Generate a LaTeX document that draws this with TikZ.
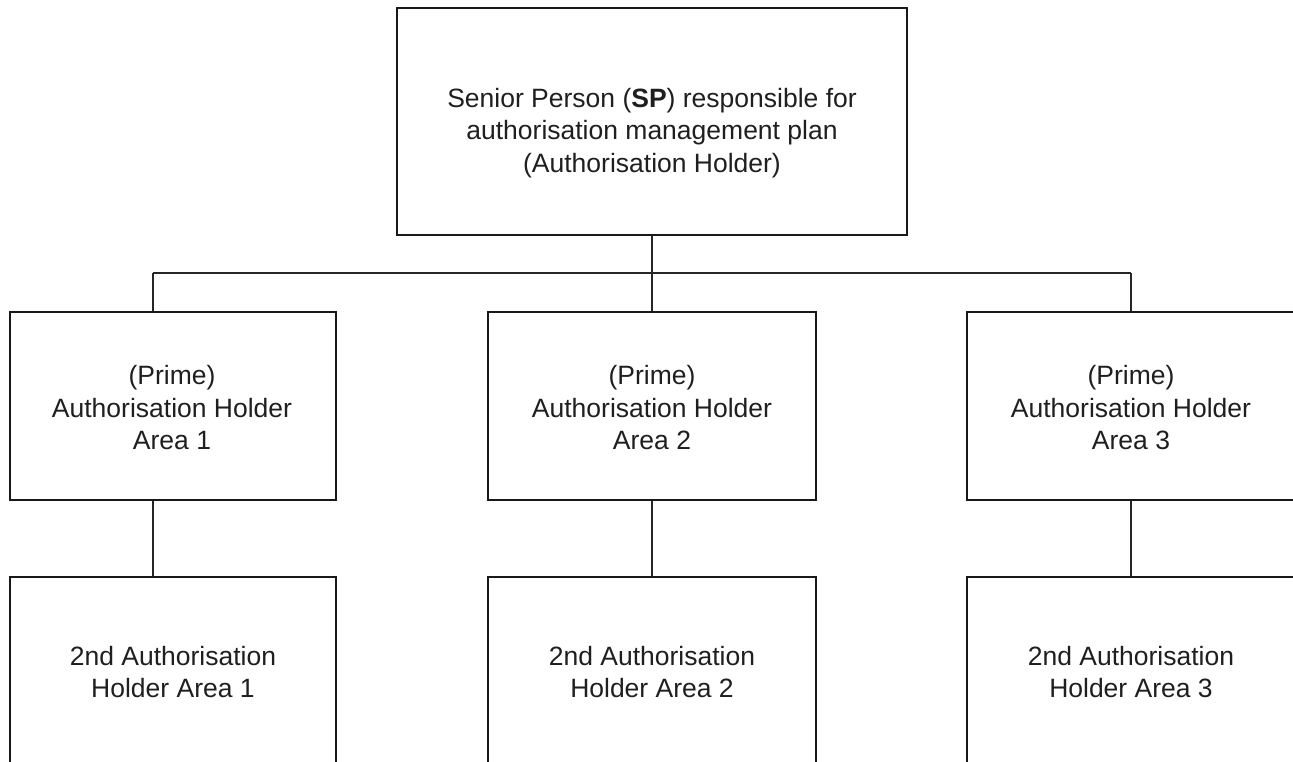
\documentclass[tikz,border=0pt]{standalone}
\usepackage{fontspec}
\setmainfont{Liberation Sans}
\begin{document}
\begin{tikzpicture}[x=1pt,y=-1pt,
  box/.style={draw=black!90,line width=1.3pt,inner sep=0pt,fill=none},
  txt/.style={align=center,inner sep=0pt,text=black!88,font=\fontsize{26.5}{32.5}\selectfont},
  conn/.style={draw=black!85,line width=1.3pt}]
\useasboundingbox (0,0) rectangle (1293,762);
\clip (0,0) rectangle (1293,762);
% top box
\node[box,minimum width=510pt,minimum height=227pt] (sp) at (652,121.5) {};
\node[txt] (tsp) at (652,133) {Senior Person (\textbf{SP}) responsible for\\authorisation management plan\\(Authorisation Holder)};
% middle row
\node[box,minimum width=326pt,minimum height=188pt] (m1) at (173,406) {};
\node[box,minimum width=328pt,minimum height=188pt] (m2) at (652,406) {};
\node[box,minimum width=328pt,minimum height=188pt] (m3) at (1131,406) {};
\node[txt] (tm1) at (172,408) {(Prime)\\Authorisation Holder\\Area 1};
\node[txt] (tm2) at (652,408) {(Prime)\\Authorisation Holder\\Area 2};
\node[txt] (tm3) at (1131,408) {(Prime)\\Authorisation Holder\\Area 3};
% bottom row
\node[box,minimum width=326pt,minimum height=223pt] (b1) at (173,688.5) {};
\node[box,minimum width=328pt,minimum height=223pt] (b2) at (652,688.5) {};
\node[box,minimum width=328pt,minimum height=223pt] (b3) at (1131,688.5) {};
\node[txt] (tb1) at (173,672) {2nd Authorisation\\Holder Area 1};
\node[txt] (tb2) at (652,672) {2nd Authorisation\\Holder Area 2};
\node[txt] (tb3) at (1131,672) {2nd Authorisation\\Holder Area 3};
% connectors
\coordinate (j1) at (153,273);
\coordinate (j2) at (652,273);
\coordinate (j3) at (1131,273);
\draw[conn] (sp.south) -- (j2);
\draw[conn] (j1) -- (j3);
\draw[conn] (j1) -- (j1 |- m1.north);
\draw[conn] (j2) -- (m2.north);
\draw[conn] (j3) -- (m3.north);
\draw[conn] (m1.south -| j1) -- (b1.north -| j1);
\draw[conn] (m2.south) -- (b2.north);
\draw[conn] (m3.south) -- (b3.north);
\end{tikzpicture}
\end{document}
